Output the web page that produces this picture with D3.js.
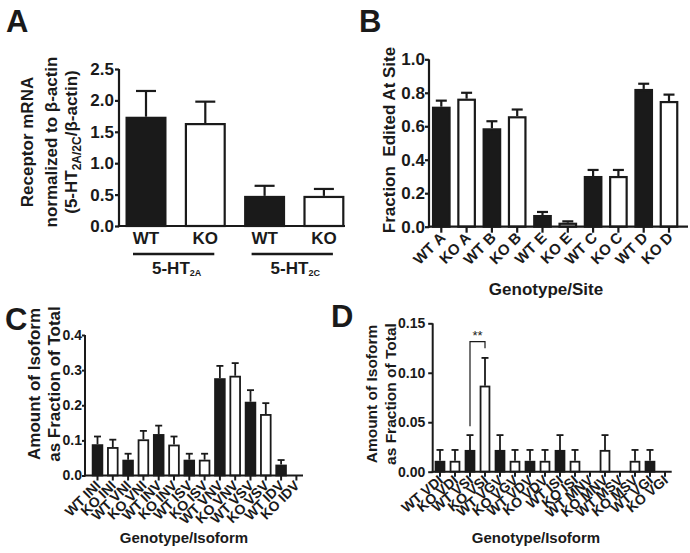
<!DOCTYPE html>
<html><head><meta charset="utf-8">
<script src="https://cdn.jsdelivr.net/npm/d3@7"></script>
<style>
html,body{margin:0;padding:0;background:#fff;}
svg text{font-family:'Liberation Sans',Arial,Helvetica,sans-serif;font-weight:bold;fill:#1a1a1a;white-space:pre;}
</style></head>
<body>
<svg id="chart" width="690" height="553"></svg>
<script>
// ---------- data ----------
const catsA = ["WT", "KO", "WT", "KO"];
const meanA = [1.74, 1.64, 0.48, 0.48];
const errA  = [0.41, 0.34, 0.16, 0.11];
const ticksA = [0, 0.5, 1.0, 1.5, 2.0, 2.5];

const catsB = ["WT A","KO A","WT B","KO B","WT E","KO E","WT C","KO C","WT D","KO D"];
const meanB = [0.717, 0.765, 0.588, 0.66, 0.07, 0.024, 0.303, 0.303, 0.823, 0.751];
const errB  = [0.036, 0.035, 0.042, 0.04, 0.018, 0.008, 0.036, 0.036, 0.031, 0.038];
const ticksB = [0, 0.2, 0.4, 0.6, 0.8, 1.0];

const catsC = ["WT INI","KO INI","WT VNI","KO VNI","WT INV","KO INV","WT ISV","KO ISV","WT VNV","KO VNV","WT VSV","KO VSV","WT IDV","KO IDV"];
const meanC = [0.089, 0.081, 0.045, 0.103, 0.118, 0.088, 0.045, 0.045, 0.277, 0.284, 0.21, 0.175, 0.031, 0];
const errC  = [0.022, 0.021, 0.017, 0.024, 0.024, 0.023, 0.017, 0.017, 0.035, 0.036, 0.033, 0.031, 0.013, 0];
const ticksC = [0, 0.1, 0.2, 0.3, 0.4];

const catsD = ["WT VDI","KO VDI","WT VSI","KO VSI","WT VGV","KO VGV","WT VDV","KO VDV","WT ISI","KO ISI","WT MNV","KO MNV","WT MSV","KO MSV","WT VGI","KO VGI"];
const meanD = [0.011, 0.011, 0.022, 0.087, 0.022, 0.011, 0.011, 0.011, 0.022, 0.011, 0, 0.022, 0, 0.011, 0.011, 0];
const errD  = [0.011, 0.011, 0.015, 0.028, 0.015, 0.011, 0.011, 0.011, 0.015, 0.011, 0, 0.015, 0, 0.011, 0.011, 0];
const ticksD = [0, 0.05, 0.10, 0.15];
const sigD = {from: "WT VSI", to: "KO VSI", leftBase: 0.046, top: 0.1315, rightBase: 0.1248, label: "**"};

// ---------- drawing ----------
const svg = d3.select("#chart");
const INK = "#1a1a1a";

function panel(o) {
  const g = svg.append("g");
  const n = o.cats.length;
  const idx = d3.range(n);
  const x = d3.scaleBand().domain(idx)
    .range([o.c0 - o.step / 2, o.c0 - o.step / 2 + n * o.step]).padding(0);
  const y = d3.scaleLinear().domain([0, o.yMax]).range([o.y0, o.yTop]);
  const cx = i => x(i) + x.bandwidth() / 2;
  const isWT = i => o.fillKey[i].startsWith("WT");

  // error bars (upper only)
  idx.forEach(i => {
    if (o.mean[i] <= 0) return;
    const top = y(o.mean[i] + o.err[i]);
    g.append("line").attr("x1", cx(i)).attr("x2", cx(i))
      .attr("y1", y(o.mean[i])).attr("y2", top)
      .attr("stroke", INK).attr("stroke-width", o.sw);
    g.append("line").attr("x1", cx(i) - o.cap / 2).attr("x2", cx(i) + o.cap / 2)
      .attr("y1", top).attr("y2", top)
      .attr("stroke", INK).attr("stroke-width", o.sw);
  });
  // bars
  idx.forEach(i => {
    if (o.mean[i] <= 0) return;
    const h = o.y0 - y(o.mean[i]);
    g.append("rect")
      .attr("x", cx(i) - o.barW / 2 + o.sw / 2)
      .attr("y", y(o.mean[i]) + o.sw / 2)
      .attr("width", o.barW - o.sw)
      .attr("height", Math.max(0.5, h - o.sw / 2))
      .attr("fill", isWT(i) ? INK : "#fff")
      .attr("stroke", INK).attr("stroke-width", o.sw);
  });

  // y axis
  const ya = d3.axisLeft(y).tickValues(o.ticks).tickFormat(d3.format(o.fmt))
    .tickSize(o.tickLen).tickSizeOuter(0).tickPadding(o.tickPad);
  const yg = g.append("g").attr("transform", `translate(${o.axisX},0)`).call(ya);
  yg.select(".domain").attr("stroke", INK).attr("stroke-width", o.axW)
    .attr("d", `M0,${o.y0 + o.axW / 2}V${o.yTop}`);
  yg.selectAll(".tick line").attr("stroke", INK).attr("stroke-width", o.axW);
  yg.selectAll(".tick text").style("font-size", o.tickFont + "px").attr("fill", INK);

  // x axis line
  g.append("line").attr("x1", o.axisX - o.axW / 2).attr("x2", o.axisEnd)
    .attr("y1", o.y0).attr("y2", o.y0).attr("stroke", INK).attr("stroke-width", o.axW);

  if (o.xTicks) {
    const xa = d3.axisBottom(x).tickSize(o.xTickLen).tickSizeOuter(0).tickFormat(i => o.cats[i]);
    const xg = g.append("g").attr("transform", `translate(0,${o.y0})`).call(xa);
    xg.select(".domain").remove();
    xg.selectAll(".tick line").attr("stroke", INK).attr("stroke-width", o.axW);
    xg.selectAll(".tick text")
      .attr("x", 0).attr("y", 0).attr("dy", null)
      .attr("text-anchor", "end")
      .attr("transform", `translate(${o.lblDx},${o.lblDy}) rotate(${o.rot})`)
      .style("font-size", o.xFont + "px").attr("fill", INK);
  }
  return {g, x, y, cx};
}

// ----- Panel A -----
const A = panel({cats: catsA, fillKey: catsA, mean: meanA, err: errA, ticks: ticksA, fmt: ".1f",
  yMax: 2.5, axisX: 119, y0: 226, yTop: 69, axisEnd: 345, c0: 146, step: 59.3, barW: 41,
  sw: 2.2, axW: 2.2, cap: 20, tickLen: 4, tickPad: 1, tickFont: 17, xTicks: false});
catsA.forEach((c, i) => {
  A.g.append("text").attr("x", A.cx(i)).attr("y", 244).attr("text-anchor", "middle")
    .style("font-size", "17px").text(c);
});
const groupsA = [{a: 0, b: 1, sub: "2A"}, {a: 2, b: 3, sub: "2C"}];
groupsA.forEach(gr => {
  const x1 = A.cx(gr.a) - 13, x2 = A.cx(gr.b) + 9;
  A.g.append("line").attr("x1", x1).attr("x2", x2).attr("y1", 254).attr("y2", 254)
    .attr("stroke", INK).attr("stroke-width", 2.6);
  const t = A.g.append("text").attr("x", (x1 + x2) / 2 + 3).attr("y", 274)
    .attr("text-anchor", "middle").style("font-size", "17px");
  t.append("tspan").text("5-HT");
  t.append("tspan").attr("dy", 2).style("font-size", "9px").text(gr.sub);
});
// y label A
const ylA = svg.append("g").attr("transform", "translate(0,142)");
[["Receptor mRNA", 33], ["normalized to β-actin", 57]].forEach(([s, xx]) => {
  ylA.append("text").attr("transform", `translate(${xx},0) rotate(-90)`)
    .attr("text-anchor", "middle").style("font-size", "17px").text(s);
});
{
  const t = ylA.append("text").attr("transform", "translate(77,0) rotate(-90)")
    .attr("text-anchor", "middle").style("font-size", "17px");
  t.append("tspan").text("(5-HT");
  t.append("tspan").attr("dy", 4).style("font-size", "12px").text("2A/2C");
  t.append("tspan").attr("dy", -4).text("/β-actin)");
}

// ----- Panel B -----
panel({cats: catsB, fillKey: catsB, mean: meanB, err: errB, ticks: ticksB, fmt: ".1f",
  yMax: 1.0, axisX: 429, y0: 226.7, yTop: 59.3, axisEnd: 688, c0: 441.3, step: 25.3, barW: 18.7,
  sw: 2.2, axW: 2.2, cap: 11, tickLen: 4, tickPad: 0, xTickLen: 6, tickFont: 17, xTicks: true,
  xFont: 15, rot: -45, lblDx: 5, lblDy: 12});
svg.append("text").attr("x", 546).attr("y", 295).attr("text-anchor", "middle")
  .style("font-size", "17px").text("Genotype/Site");
svg.append("text").attr("transform", "translate(395,140) rotate(-90)")
  .attr("text-anchor", "middle").style("font-size", "17px")
  .text("Fraction  Edited At Site");

// ----- Panel C -----
panel({cats: catsC, fillKey: catsC, mean: meanC, err: errC, ticks: ticksC, fmt: ".1f",
  yMax: 0.4, axisX: 85, y0: 475.5, yTop: 335, axisEnd: 303, c0: 97.5, step: 15.3, barW: 11.5,
  sw: 1.8, axW: 2, cap: 7, tickLen: 3, tickPad: 0, xTickLen: 5, tickFont: 14, xTicks: true,
  xFont: 14, rot: -45, lblDx: 4, lblDy: 11});
svg.append("text").attr("x", 184).attr("y", 543).attr("text-anchor", "middle")
  .style("font-size", "15px").text("Genotype/Isoform");
[["Amount of Isoform", 40], ["as Fraction of Total", 60]].forEach(([s, xx]) => {
  svg.append("text").attr("transform", `translate(${xx},384) rotate(-90)`)
    .attr("text-anchor", "middle").style("font-size", "17px").text(s);
});

// ----- Panel D -----
const D = panel({cats: catsD, fillKey: catsD, mean: meanD, err: errD, ticks: ticksD, fmt: ".2f",
  yMax: 0.15, axisX: 432.7, y0: 471.7, yTop: 323.3, axisEnd: 671.7, c0: 440, step: 15, barW: 10.7,
  sw: 1.8, axW: 2, cap: 7, tickLen: 4.5, tickPad: 3, xTickLen: 5, tickFont: 14, xTicks: true,
  xFont: 14, rot: -40, lblDx: 4, lblDy: 10});
{
  const iL = catsD.indexOf(sigD.from), iR = catsD.indexOf(sigD.to);
  const xl = D.cx(iL), xr = D.cx(iR);
  D.g.append("path")
    .attr("d", `M${xl},${D.y(sigD.leftBase)}V${D.y(sigD.top)}H${xr}V${D.y(sigD.rightBase)}`)
    .attr("fill", "none").attr("stroke", INK).attr("stroke-width", 1.2);
  D.g.append("text").attr("x", (xl + xr) / 2).attr("y", D.y(sigD.top) - 2)
    .attr("text-anchor", "middle").style("font-size", "13px").style("font-weight", "normal")
    .text(sigD.label);
}
svg.append("text").attr("x", 536).attr("y", 543).attr("text-anchor", "middle")
  .style("font-size", "15px").text("Genotype/Isoform");
[["Amount of Isoform", 377], ["as Fraction of Total", 396]].forEach(([s, xx]) => {
  svg.append("text").attr("transform", `translate(${xx},394) rotate(-90)`)
    .attr("text-anchor", "middle").style("font-size", "15.5px").text(s);
});

// ----- Panel letters -----
[["A", 6, 32], ["B", 359, 32], ["C", 5, 330], ["D", 331, 327]].forEach(([s, xx, yy]) => {
  svg.append("text").attr("x", xx).attr("y", yy).style("font-size", "31px").text(s);
});
</script>
</body></html>
